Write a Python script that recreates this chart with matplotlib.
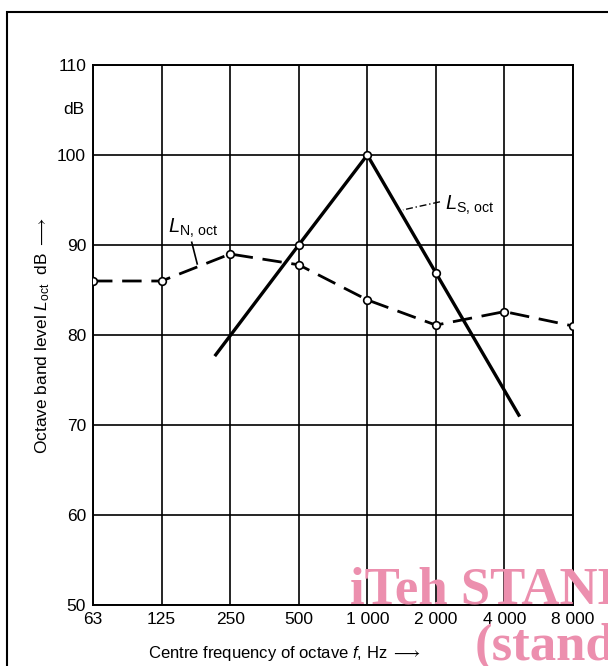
import numpy as np
import matplotlib
matplotlib.use("Agg")
import matplotlib.pyplot as plt
from matplotlib.patches import Rectangle

plt.rcParams['font.family'] = ['Liberation Sans', 'DejaVu Sans']
plt.rcParams['mathtext.fontset'] = 'custom'
plt.rcParams['mathtext.rm'] = 'Liberation Sans'
plt.rcParams['mathtext.it'] = 'Liberation Sans:italic'
plt.rcParams['mathtext.fallback'] = 'stixsans'

# ---------- data ----------
freq_labels = ["63", "125", "250", "500", "1 000", "2 000", "4 000", "8 000"]
y_ticks = [50, 60, 70, 80, 90, 100, 110]

# noise spectrum L_N,oct (one point per octave)
noise_level = [86, 86, 89, 87.8, 83.9, 81.1, 82.6, 81]

# signal spectrum L_S,oct (line drawn beyond marked points)
sig_pos = [1.79, 3, 4, 5, 6.21]
sig_level = [77.8, 90, 100, 86.9, 71.1]
sig_mark_pos = [3, 4, 5]
sig_mark_level = [90, 100, 86.9]

x = np.arange(len(freq_labels))

fig = plt.figure(figsize=(6.08, 6.66), dpi=100)
ax = fig.add_axes([93/608, 1 - 605/666, 480/608, 540/666])

ax.set_xlim(0, 7)
ax.set_ylim(50, 110)
ax.set_xticks(x)
ax.set_xticklabels(freq_labels)
ax.set_yticks(y_ticks)
ax.tick_params(length=0, labelsize=12.5, pad=5)
ax.grid(True, color="black", lw=1.2)
for s in ax.spines.values():
    s.set_linewidth(1.4)

# lines
ax.plot(x, noise_level, color="black", lw=2, dashes=(7, 3.5), zorder=3)
ax.plot(x, noise_level, ls="none", marker="o", ms=5.5, mfc="white",
        mec="black", mew=1.2, zorder=5)
ax.plot(sig_pos, sig_level, color="black", lw=2.4, zorder=4)
ax.plot(sig_mark_pos, sig_mark_level, ls="none", marker="o", ms=5.5,
        mfc="white", mec="black", mew=1.2, zorder=5)

# curve labels with leaders
ax.text(1.09, 91.8, r"$\mathit{L}_{\mathrm{N,\,oct}}$", fontsize=14.5, va="center")
ax.plot([1.44, 1.52], [90.3, 87.9], color="black", lw=1.2, zorder=4)
ax.text(5.13, 94.4, r"$\mathit{L}_{\mathrm{S,\,oct}}$", fontsize=14.5, va="center")
ax.plot([5.06, 4.52], [94.8, 93.9], color="black", lw=1, dashes=(5, 2, 1, 2), zorder=4)

# "dB" unit next to y ticks
ax.text(-0.12, 105, "dB", fontsize=12.5, ha="right", va="center")

ax.set_ylabel(r"Octave band level $\mathit{L}_{\mathrm{oct}}$  dB $\longrightarrow$", fontsize=12.5)
ax.yaxis.set_label_coords(-0.085, 0.5)
ax.set_xlabel(r"Centre frequency of octave $\mathit{f}$, Hz $\longrightarrow$", fontsize=12)
ax.xaxis.set_label_coords(0.40, -0.072)

# page frame
fig.patches.append(Rectangle((7/608, -0.1), 1.2, (666 - 12)/666 + 0.1,
                             transform=fig.transFigure, fill=False,
                             ec="black", lw=1.5))

# watermark
fig.text(350/608, (666 - 604)/666, "iTeh STANDARD PREVIEW", fontsize=38,
         fontweight="bold", family="Liberation Serif", color="#ec8fae",
         va="baseline", zorder=10)
fig.text(475/608, (666 - 660)/666, "(standards.iteh.ai)", fontsize=38,
         fontweight="bold", family="Liberation Serif", color="#ec8fae",
         va="baseline", zorder=10)

fig.savefig("out.png", dpi=100)
